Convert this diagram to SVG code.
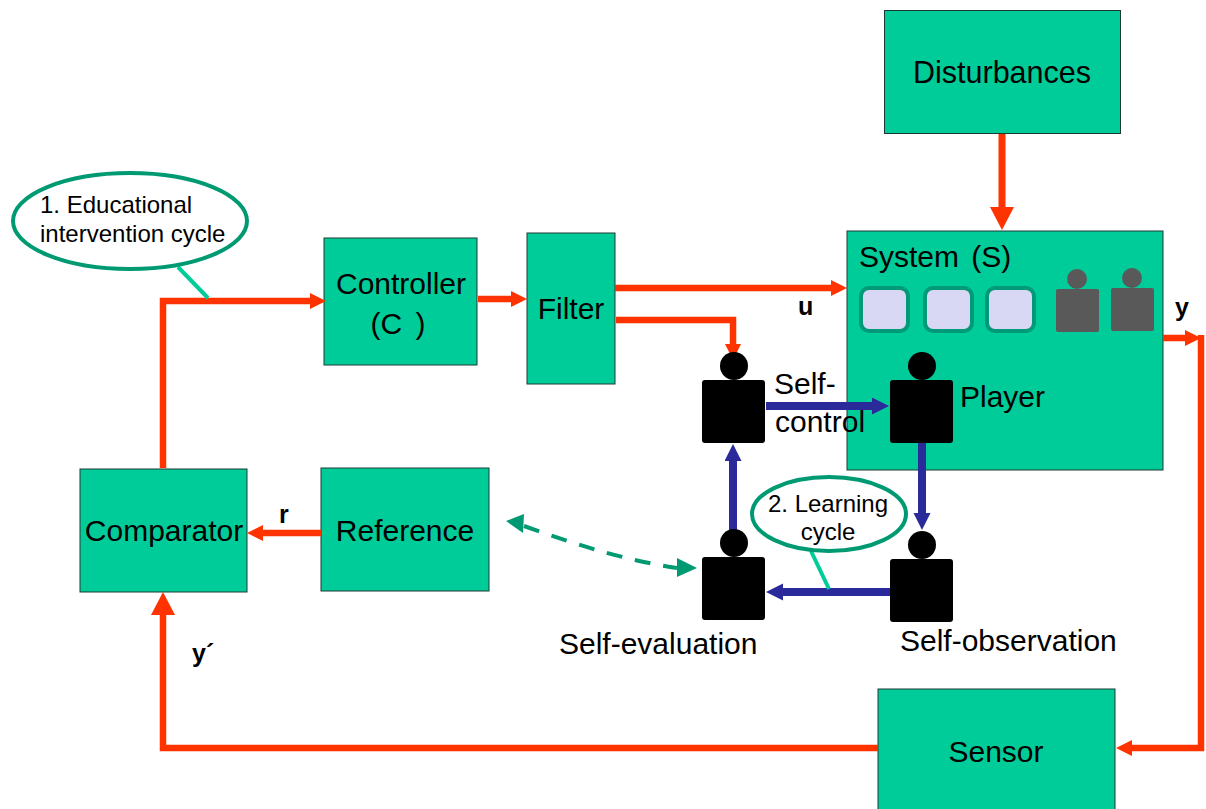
<svg xmlns="http://www.w3.org/2000/svg" width="1206" height="809" viewBox="0 0 1206 809">
<style>
text{font-family:"Liberation Sans",Arial,sans-serif;fill:#000}
.box{fill:#00cc99;stroke:#1c3a33;stroke-width:1}
.t{font-size:30px;text-anchor:middle}
.s{font-size:30px}
.b{font-size:25px;font-weight:bold}
.c{font-size:24px}
.r{fill:none;stroke:#ff3300;stroke-width:6.500}
.bl{fill:none;stroke:#2a2a9a;stroke-width:8}
.ov{fill:#fff;stroke:#009a72;stroke-width:4}
.ln{fill:none;stroke:#00cc99;stroke-width:4}
.sq{fill:#d8d8f4;stroke:#009a78;stroke-width:4}
</style>
<defs>
<marker id="ra" markerUnits="userSpaceOnUse" markerWidth="18" markerHeight="18" refX="1" refY="8" orient="auto"><path d="M0 0L16 8L0 16z" fill="#ff3300"/></marker>
<marker id="rb" markerUnits="userSpaceOnUse" markerWidth="26" markerHeight="26" refX="1" refY="12" orient="auto"><path d="M0 0L23 12L0 24z" fill="#ff3300"/></marker>
<marker id="ba" markerUnits="userSpaceOnUse" markerWidth="18" markerHeight="18" refX="1" refY="8.500" orient="auto"><path d="M0 0L17 8.500L0 17z" fill="#2a2a9a"/></marker>
<g id="person"><circle cx="32" cy="14" r="14" fill="#000"/><rect x="0" y="28" width="63" height="63" rx="3" fill="#000"/></g>
<g id="gperson"><circle cx="21" cy="10" r="10" fill="#595959"/><rect x="0" y="20" width="43" height="43" rx="2" fill="#595959"/></g>
</defs>

<g id="disturbances"><rect class="box" x="884.500" y="10.500" width="236" height="123"/><text class="t" x="1002" y="83" style="font-size:30.500px">Disturbances</text></g>
<g id="system"><rect class="box" x="847" y="231" width="316" height="239"/><text class="s" x="859" y="267" style="word-spacing:4px">System (S)</text>
<rect class="sq" x="861" y="288" width="47" height="43" rx="8"/><rect class="sq" x="925" y="288" width="47" height="43" rx="8"/><rect class="sq" x="987" y="288" width="47" height="43" rx="8"/>
<use href="#gperson" x="1056" y="269"/><use href="#gperson" x="1111" y="268"/></g>
<g id="controller"><rect class="box" x="324" y="238" width="153" height="127"/><text class="t" x="401" y="294">Controller</text><text class="t" x="398" y="334" style="word-spacing:5px">(C )</text></g>
<g id="filter"><rect class="box" x="527" y="233" width="88" height="151"/><text class="t" x="571" y="319">Filter</text></g>
<g id="comparator"><rect class="box" x="80" y="469" width="167" height="123"/><text class="t" x="164" y="541">Comparator</text></g>
<g id="reference"><rect class="box" x="321" y="468" width="168" height="123"/><text class="t" x="405" y="541">Reference</text></g>
<g id="sensor"><rect class="box" x="878" y="689" width="237" height="125"/><text class="t" x="996" y="762">Sensor</text></g>

<g id="connectors">
<path class="r" style="stroke-width:7" d="M1002 134V208" marker-end="url(#rb)"/>
<path class="r" d="M163 468V301H311" marker-end="url(#ra)"/>
<path class="r" d="M478 299H512" marker-end="url(#ra)"/>
<path class="r" d="M615 288H832" marker-end="url(#ra)"/>
<path class="r" d="M616 320H733V345" marker-end="url(#ra)"/>
<path class="r" d="M1163 338H1186" marker-end="url(#ra)"/>
<path class="r" d="M1201 335V748H1131" marker-end="url(#ra)"/>
<path class="r" d="M878 748H163V614" marker-end="url(#rb)"/>
<path class="r" d="M321 533H262" marker-end="url(#ra)"/>
<path class="bl" d="M766 406H873" marker-end="url(#ba)"/>
<path class="bl" d="M922 443V514" marker-end="url(#ba)"/>
<path class="bl" d="M890 592H782" marker-end="url(#ba)"/>
<path class="bl" d="M733 530V460" marker-end="url(#ba)"/>
<path fill="none" stroke="#009a72" stroke-width="4" stroke-dasharray="16 13" d="M524 526C580 546 625 560 677 568"/>
<path fill="#009a72" d="M506 521L524 514L523 533zM697 568L677 558L677 577z"/>
<path class="ln" d="M178 267L208 298"/>
<path class="ln" d="M811 551L829 589"/>
</g>

<g id="self-control"><use href="#person" x="702" y="352"/><text class="s" x="774" y="394">Self-</text><text class="s" x="775" y="432">control</text></g>
<g id="player"><use href="#person" x="890" y="352"/><text class="s" x="960" y="407">Player</text></g>
<g id="self-evaluation"><use href="#person" x="702" y="529"/><text class="s" x="559" y="654">Self-evaluation</text></g>
<g id="self-observation"><use href="#person" x="890" y="531"/><text class="s" x="900" y="651">Self-observation</text></g>

<g id="callout-1"><ellipse class="ov" cx="130" cy="221" rx="117" ry="48"/><text class="c" x="40" y="213">1. Educational</text><text class="c" x="40" y="242">intervention cycle</text></g>
<g id="callout-2"><ellipse class="ov" cx="829" cy="514" rx="77" ry="37"/><text class="c" x="828" y="512" text-anchor="middle">2. Learning</text><text class="c" x="828" y="540" text-anchor="middle">cycle</text></g>

<g id="labels">
<text class="b" x="798" y="315">u</text>
<text class="b" x="1175" y="316">y</text>
<text class="b" x="279" y="523">r</text>
<text class="b" x="192" y="662">y´</text>
</g>
</svg>
